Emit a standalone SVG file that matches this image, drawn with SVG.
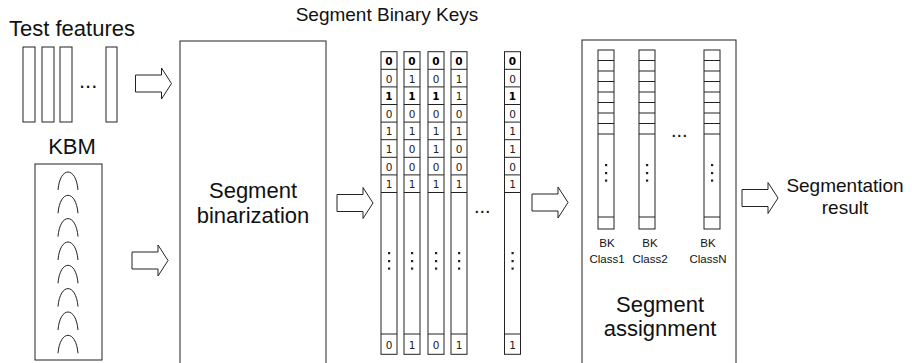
<svg xmlns="http://www.w3.org/2000/svg" width="912" height="363" viewBox="0 0 912 363">
<style>
.s{fill:#fff;stroke:#222;stroke-width:1}
.n{fill:none;stroke:#222;stroke-width:1}
.t{font-family:"Liberation Sans",Arial,sans-serif;fill:#111}
.d{font-family:"DejaVu Sans",sans-serif;font-size:10.5px;fill:#222;text-anchor:middle}
.b{font-weight:bold;fill:#000}
.c{text-anchor:middle}
</style>
<defs>
<path id="arr" d="M0,-8.5 H26 V-15.5 L36,0 L26,15.5 V8.5 H0 Z" class="s"/>
<path id="arc" d="M58,190 C60,166 76,166 78,190" class="n"/>
<g id="dots3"><rect x="-1" y="-1" width="2.2" height="2.2" fill="#222"/><rect x="-1" y="7" width="2.2" height="2.2" fill="#222"/><rect x="-1" y="14.5" width="2.2" height="2.2" fill="#222"/></g>
</defs>

<g id="test-features">
<text class="t" x="9" y="36" font-size="22">Test features</text>
<rect class="s" x="23" y="47" width="12" height="75"/>
<rect class="s" x="42" y="47" width="12" height="75"/>
<rect class="s" x="60" y="47" width="12" height="75"/>
<rect class="s" x="106" y="47" width="11" height="75"/>
<text class="t" x="79" y="88" font-size="22">...</text>
</g>

<g id="kbm">
<text class="t c" x="72" y="154" font-size="22">KBM</text>
<rect class="s" x="35" y="164" width="67" height="196"/>
<use href="#arc"/>
<use href="#arc" y="23.3"/>
<use href="#arc" y="46.6"/>
<use href="#arc" y="70"/>
<use href="#arc" y="93.3"/>
<use href="#arc" y="116.6"/>
<use href="#arc" y="140"/>
<use href="#arc" y="163.3"/>
</g>

<g id="segment-binarization">
<rect class="s" x="180" y="41" width="146" height="325"/>
<text class="t c" x="253" y="198" font-size="22">Segment</text>
<text class="t c" x="253" y="223" font-size="22">binarization</text>
</g>

<g id="segment-binary-keys">
<text class="t c" x="387" y="21" font-size="19">Segment Binary Keys</text>
<g id="bk1">
<rect class="s" x="381" y="51.7" width="16" height="302.6"/>
<path class="n" d="M381,69.3H397M381,86.9H397M381,104.5H397M381,122.1H397M381,139.7H397M381,157.3H397M381,174.9H397M381,192.5H397M381,334H397"/>
<text class="d b" x="389" y="65">0</text><text class="d" x="389" y="82.6">0</text><text class="d b" x="389" y="100.2">1</text><text class="d" x="389" y="117.8">0</text><text class="d" x="389" y="135.4">1</text><text class="d" x="389" y="153">1</text><text class="d" x="389" y="170.6">0</text><text class="d" x="389" y="188.2">1</text>
<use href="#dots3" x="389" y="253"/>
<text class="d" x="389" y="349">0</text>
</g>
<g id="bk2">
<rect class="s" x="404" y="51.7" width="16" height="302.6"/>
<path class="n" d="M404,69.3H420M404,86.9H420M404,104.5H420M404,122.1H420M404,139.7H420M404,157.3H420M404,174.9H420M404,192.5H420M404,334H420"/>
<text class="d b" x="412" y="65">0</text><text class="d" x="412" y="82.6">1</text><text class="d b" x="412" y="100.2">1</text><text class="d" x="412" y="117.8">0</text><text class="d" x="412" y="135.4">1</text><text class="d" x="412" y="153">0</text><text class="d" x="412" y="170.6">0</text><text class="d" x="412" y="188.2">1</text>
<use href="#dots3" x="412" y="253"/>
<text class="d" x="412" y="349">1</text>
</g>
<g id="bk3">
<rect class="s" x="428" y="51.7" width="16" height="302.6"/>
<path class="n" d="M428,69.3H444M428,86.9H444M428,104.5H444M428,122.1H444M428,139.7H444M428,157.3H444M428,174.9H444M428,192.5H444M428,334H444"/>
<text class="d b" x="436" y="65">0</text><text class="d" x="436" y="82.6">0</text><text class="d b" x="436" y="100.2">1</text><text class="d" x="436" y="117.8">0</text><text class="d" x="436" y="135.4">1</text><text class="d" x="436" y="153">1</text><text class="d" x="436" y="170.6">0</text><text class="d" x="436" y="188.2">1</text>
<use href="#dots3" x="436" y="253"/>
<text class="d" x="436" y="349">0</text>
</g>
<g id="bk4">
<rect class="s" x="451" y="51.7" width="16" height="302.6"/>
<path class="n" d="M451,69.3H467M451,86.9H467M451,104.5H467M451,122.1H467M451,139.7H467M451,157.3H467M451,174.9H467M451,192.5H467M451,334H467"/>
<text class="d b" x="459" y="65">0</text><text class="d" x="459" y="82.6">1</text><text class="d" x="459" y="100.2">1</text><text class="d" x="459" y="117.8">0</text><text class="d" x="459" y="135.4">1</text><text class="d" x="459" y="153">0</text><text class="d" x="459" y="170.6">0</text><text class="d" x="459" y="188.2">1</text>
<use href="#dots3" x="459" y="253"/>
<text class="d" x="459" y="349">1</text>
</g>
<text class="t" x="474" y="213" font-size="20">...</text>
<g id="bk5">
<rect class="s" x="504.5" y="51.7" width="16" height="302.6"/>
<path class="n" d="M504.5,69.3H520.5M504.5,86.9H520.5M504.5,104.5H520.5M504.5,122.1H520.5M504.5,139.7H520.5M504.5,157.3H520.5M504.5,174.9H520.5M504.5,192.5H520.5M504.5,334H520.5"/>
<text class="d b" x="512.5" y="65">0</text><text class="d" x="512.5" y="82.6">0</text><text class="d b" x="512.5" y="100.2">1</text><text class="d" x="512.5" y="117.8">0</text><text class="d" x="512.5" y="135.4">1</text><text class="d" x="512.5" y="153">1</text><text class="d" x="512.5" y="170.6">0</text><text class="d" x="512.5" y="188.2">1</text>
<use href="#dots3" x="512.5" y="253"/>
<text class="d" x="512.5" y="349">1</text>
</g>
</g>

<g id="segment-assignment">
<rect class="s" x="582" y="40" width="154" height="326"/>
<g id="class1">
<rect class="s" x="598" y="50" width="16" height="179"/>
<path class="n" d="M598,60.5H614M598,71H614M598,81.5H614M598,92H614M598,102.5H614M598,113H614M598,123.5H614M598,134H614M598,217H614"/>
<use href="#dots3" x="606" y="165"/>
<text class="t c" x="607" y="247" font-size="11.5">BK</text>
<text class="t c" x="607" y="263" font-size="11.5">Class1</text>
</g>
<g id="class2">
<rect class="s" x="639" y="50" width="16" height="179"/>
<path class="n" d="M639,60.5H655M639,71H655M639,81.5H655M639,92H655M639,102.5H655M639,113H655M639,123.5H655M639,134H655M639,217H655"/>
<use href="#dots3" x="647" y="165"/>
<text class="t c" x="650" y="247" font-size="11.5">BK</text>
<text class="t c" x="650" y="263" font-size="11.5">Class2</text>
</g>
<text class="t" x="671" y="137" font-size="20">...</text>
<g id="classN">
<rect class="s" x="704" y="50" width="16" height="179"/>
<path class="n" d="M704,60.5H720M704,71H720M704,81.5H720M704,92H720M704,102.5H720M704,113H720M704,123.5H720M704,134H720M704,217H720"/>
<use href="#dots3" x="712" y="165"/>
<text class="t c" x="708" y="247" font-size="11.5">BK</text>
<text class="t c" x="708" y="263" font-size="11.5">ClassN</text>
</g>
<text class="t c" x="660" y="312" font-size="22">Segment</text>
<text class="t c" x="660" y="336" font-size="22">assignment</text>
</g>

<g id="segmentation-result">
<text class="t c" x="845" y="192" font-size="19">Segmentation</text>
<text class="t c" x="845" y="214" font-size="19">result</text>
</g>

<g id="connectors">
<use href="#arr" x="135.5" y="83.5"/>
<use href="#arr" x="132" y="260.5"/>
<use href="#arr" x="337" y="203"/>
<use href="#arr" x="532" y="202.5"/>
<use href="#arr" x="742" y="198"/>
</g>
</svg>
